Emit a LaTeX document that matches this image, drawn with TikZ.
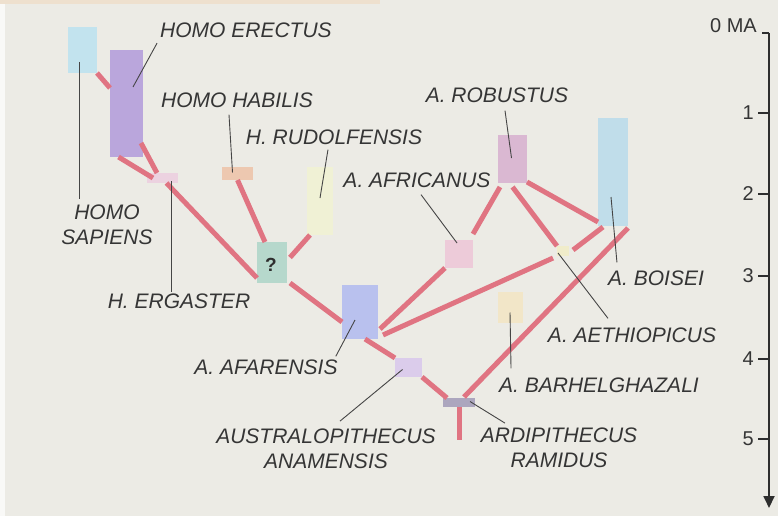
\documentclass[tikz,border=0pt]{standalone}
\usepackage{fontspec}
\setmainfont{Liberation Sans}
\usetikzlibrary{calc,arrows.meta}
\definecolor{bgc}{HTML}{ECEBE5}
\definecolor{linec}{RGB}{224,116,130}
\definecolor{textc}{HTML}{353535}
\definecolor{leadc}{HTML}{454545}
\definecolor{axisc}{HTML}{2E2E2E}
\begin{document}
\begin{tikzpicture}[x=1pt,y=-1pt,
  box/.style={draw=none,inner sep=0pt,outer sep=0pt},
  lab/.style={font=\fontsize{21}{24.5}\selectfont\itshape,text=textc,inner sep=0pt,align=center},
  ticklab/.style={font=\fontsize{20}{24}\selectfont,text=textc,inner sep=0pt},
  branch/.style={draw=linec,line width=5pt},
  leader/.style={draw=leadc,line width=0.9pt},
  axisline/.style={draw=axisc,line width=1.8pt}]
% background
\fill[bgc] (0,0) rectangle (778,516);
\fill[white!70!bgc] (0,0) rectangle (5,516);
\fill[orange!10!bgc] (0,0) rectangle (380,4);
\useasboundingbox (0,0) rectangle (778,516);
% boxes
\node[box,fill={rgb,255:red,194;green,227;blue,238},minimum width=29pt,minimum height=46pt] (sapiens) at (82.5,50) {};
\node[box,fill={rgb,255:red,186;green,166;blue,220},minimum width=33pt,minimum height=107pt] (erectus) at (126.5,103.5) {};
\node[box,fill={rgb,255:red,236;green,210;blue,224},minimum width=31pt,minimum height=10pt] (ergaster) at (162.5,178) {};
\node[box,fill={rgb,255:red,237;green,200;blue,176},minimum width=31pt,minimum height=13pt] (habilis) at (237.5,173.5) {};
\node[box,fill={rgb,255:red,240;green,241;blue,213},minimum width=26pt,minimum height=68pt] (rud) at (320,201) {};
\node[box,fill={rgb,255:red,182;green,216;blue,204},minimum width=30pt,minimum height=41pt] (q) at (272,262.5) {};
\node[font=\fontsize{19}{19}\selectfont\bfseries,text=axisc,inner sep=0pt] (qmark) at (271,264.5) {?};
\node[box,fill={rgb,255:red,185;green,193;blue,238},minimum width=36pt,minimum height=54pt] (afarensis) at (360,312) {};
\node[box,fill={rgb,255:red,219;green,204;blue,235},minimum width=27pt,minimum height=19pt] (anamensis) at (408.5,367.5) {};
\node[box,fill={rgb,255:red,172;green,166;blue,190},minimum width=32pt,minimum height=9pt] (ramidus) at (459,402.5) {};
\node[box,fill={rgb,255:red,237;green,203;blue,217},minimum width=28pt,minimum height=28pt] (africanus) at (459,254) {};
\node[box,fill={rgb,255:red,218;green,184;blue,210},minimum width=29pt,minimum height=48pt] (robustus) at (512.5,159) {};
\node[box,fill={rgb,255:red,192;green,221;blue,234},minimum width=30pt,minimum height=108pt] (boisei) at (613,172) {};
\node[box,fill={rgb,255:red,240;green,236;blue,202},minimum width=12pt,minimum height=10pt] (aeth) at (563,251) {};
\node[box,fill={rgb,255:red,242;green,230;blue,200},minimum width=25pt,minimum height=31pt] (barhel) at (510.5,307.5) {};
% branches
\coordinate (root) at (459,440);
\draw[branch] (sapiens.south east) -- ($(erectus.north west)+(0,38)$);
\draw[branch] ($(erectus.south east)+(-2,-14)$) -- ($(ergaster.north west)+(10,0)$);
\draw[branch] ($(erectus.south)+(-8,0)$) -- ($(ergaster.west)+(6,0)$);
\draw[branch] ($(ergaster.south)+(4,0)$) -- ($(q.south west)+(0,-5)$);
\draw[branch] (habilis.south) -- ($(q.north west)+(8,0)$);
\draw[branch] ($(rud.south)+(-10,0)$) -- ($(q.east)+(3,-5)$);
\draw[branch] ($(q.south east)+(3,0)$) -- ($(afarensis.west)+(0,10)$);
\draw[branch] ($(afarensis.south)+(5,0)$) -- (anamensis.north west);
\draw[branch] (anamensis.south east) -- ($(ramidus.north west)+(4,0)$);
\draw[branch] (ramidus.south) -- (root);
\draw[branch] ($(afarensis.south east)+(2,-10)$) -- (africanus.south west);
\draw[branch] ($(afarensis.south east)+(5,-4)$) -- ($(aeth.south west)+(-4,2)$);
\draw[branch] ($(robustus.south west)+(2,4)$) -- ($(africanus.north east)+(0,-6)$);
\draw[branch] ($(robustus.south)+(0,4)$) -- (aeth.north west);
\draw[branch] ($(robustus.south east)+(0,-1)$) -- ($(boisei.south west)+(0,-4)$);
\draw[branch] ($(aeth.east)+(4,-1)$) -- ($(boisei.south west)+(5,1)$);
\draw[branch] ($(ramidus.north)+(5,-1)$) -- ($(boisei.south east)+(0,2)$);
% labels
\node[lab] (lerectus) at (246,30.5) {HOMO ERECTUS};
\node[lab] (lhabilis) at (237,100) {HOMO HABILIS};
\node[lab] (lrud) at (334,137) {H. RUDOLFENSIS};
\node[lab] (lafr) at (417,180) {A. AFRICANUS};
\node[lab] (lrob) at (497,95) {A. ROBUSTUS};
\node[lab] (lsap) at (107,225) {HOMO\\SAPIENS};
\node[lab] (lerg) at (179,301) {H. ERGASTER};
\node[lab] (lafar) at (266,367) {A. AFARENSIS};
\node[lab] (lanam) at (326,449) {AUSTRALOPITHECUS\\ANAMENSIS};
\node[lab] (lram) at (559,448) {ARDIPITHECUS\\RAMIDUS};
\node[lab] (lbar) at (599,385) {A. BARHELGHAZALI};
\node[lab] (laeth) at (632,335) {A. AETHIOPICUS};
\node[lab] (lboi) at (656,278) {A. BOISEI};
% leaders
\draw[leader] ($(lerectus.south west)+(-3,5)$) -- ($(erectus.north east)+(-10,37)$);
\draw[leader] ($(lhabilis.south)+(-8,7)$) -- ($(habilis.center)+(-5,-1)$);
\draw[leader] ($(lrud.south)+(-6,5)$) -- ($(rud.center)+(0,-3)$);
\draw[leader] ($(lafr.south)+(4,7)$) -- ($(africanus.north)+(-2,3)$);
\draw[leader] ($(lrob.south)+(8,8)$) -- ($(robustus.center)+(-1,-1)$);
\draw[leader] ($(sapiens.center)+(-3,12)$) -- ($(lsap.north)+(-27.5,-6)$);
\draw[leader] ($(ergaster.center)+(8.5,3)$) -- ($(lerg.north)+(-8,-1)$);
\draw[leader] ($(lafar.north east)+(-2,-3)$) -- ($(afarensis.center)+(-5,8)$);
\draw[leader] ($(lanam.north)+(14,-8)$) -- ($(anamensis.center)+(-6,2)$);
\draw[leader] ($(lram.north)+(-54,-5)$) -- ($(ramidus.east)+(-5,-1)$);
\draw[leader] ($(barhel.center)+(-0.5,5)$) -- ($(lbar.north west)+(12,-9)$);
\draw[leader] ($(aeth.center)+(-5,2)$) -- ($(laeth.north)+(-24,-9)$);
\draw[leader] ($(boisei.center)+(-2,25)$) -- ($(lboi.north west)+(9,-8)$);
% time axis
\coordinate (axtop) at (769,33);
\coordinate (axbot) at (769,508);
\draw[axisline,-{Triangle[length=12pt,width=11pt]}] (axtop) -- (axbot);
\coordinate (t0) at (769,33);
\coordinate (t1) at (769,113);
\coordinate (t2) at (769,194);
\coordinate (t3) at (769,276);
\coordinate (t4) at (769,359);
\coordinate (t5) at (769,439);
\draw[axisline] ($(t0)+(-7,0)$) -- (t0);
\foreach \t in {t1,t2,t3,t4,t5} \draw[axisline] ($(\t)+(-11,0)$) -- (\t);
\node[ticklab,anchor=base east] (l0) at (757,33) {0 MA};
\node[ticklab,anchor=east] (l1) at (754,113) {1};
\node[ticklab,anchor=east] (l2) at (754,194) {2};
\node[ticklab,anchor=east] (l3) at (754,276) {3};
\node[ticklab,anchor=east] (l4) at (754,359) {4};
\node[ticklab,anchor=east] (l5) at (754,439) {5};
\end{tikzpicture}
\end{document}
